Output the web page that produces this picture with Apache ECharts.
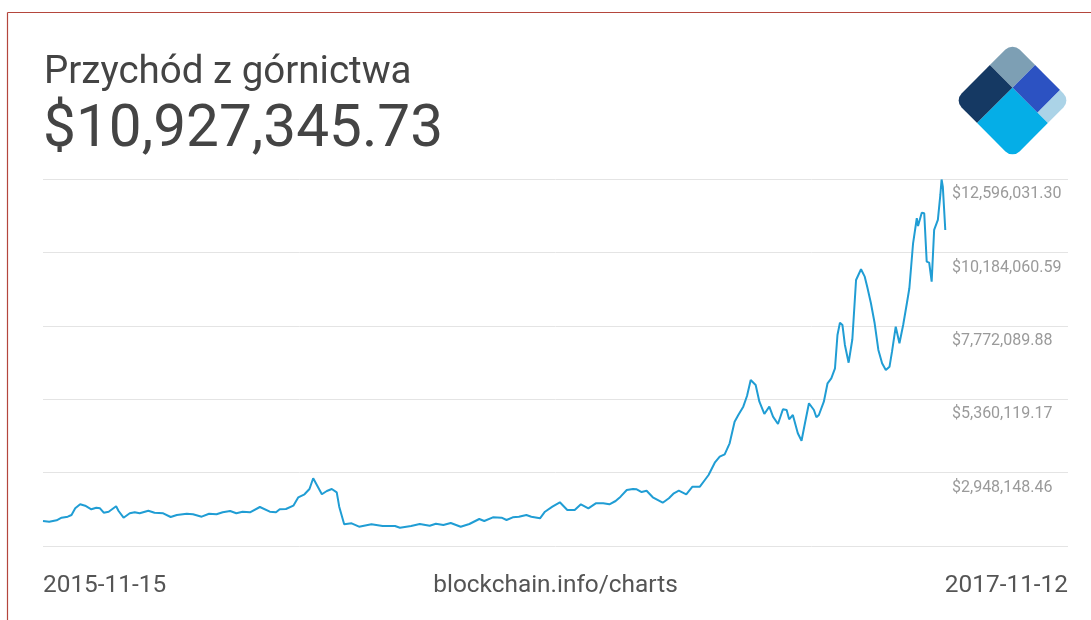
<!DOCTYPE html>
<html>
<head>
<meta charset="utf-8">
<script src="https://cdn.jsdelivr.net/npm/echarts@6/dist/echarts.min.js"></script>
<style>
html,body{margin:0;padding:0;background:#fff;}
#chart{width:1091px;height:620px;}
</style>
</head>
<body>
<div id="chart"></div>
<script>
const chartTitle = 'Przychód z górnictwa';
const footerStart = '2015-11-15';
const footerSource = 'blockchain.info/charts';
const footerEnd = '2017-11-12';

// day offsets from 2015-11-15
const days = [
  0,5,11,15,20,23,26,30,34,39,
  43,46,49,53,59,61,65,70,74,78,
  85,90,97,103,108,116,121,128,134,140,
  145,151,156,161,167,175,183,188,191,196,
  202,206,211,215,218,225,229,233,237,239,
  243,249,255,265,274,284,288,297,304,312,
  317,323,329,337,344,352,356,363,370,374,
  379,384,390,394,401,405,411,417,423,429,
  434,440,446,452,457,462,466,471,476,479,
  483,487,492,500,505,509,513,519,524,530,
  534,537,542,546,550,554,558,561,565,568,
  571,575,578,582,586,589,593,597,600,602,
  605,609,612,615,618,622,624,626,630,633,
  636,639,641,643,645,647,650,653,656,660,
  663,665,668,671,674,677,680,683,685,688,
  691,694,697,699,702,705,706,709,711,713,
  715,717,719,722,724,725,726,728
];

// mining revenue, USD
const revenue = [
  1358000,1335000,1381000,1467000,1500000,1556000,1776000,1908000,1862000,1743000,
  1796000,1776000,1631000,1664000,1842000,1687000,1467000,1612000,1645000,1612000,
  1697000,1631000,1612000,1490000,1556000,1598000,1579000,1500000,1598000,1579000,
  1645000,1687000,1612000,1664000,1645000,1819000,1664000,1645000,1743000,1753000,
  1862000,2138000,2237000,2411000,2763000,2237000,2345000,2411000,2302000,1829000,
  1250000,1283000,1171000,1250000,1194000,1194000,1138000,1194000,1260000,1204000,
  1270000,1227000,1293000,1171000,1260000,1424000,1358000,1480000,1467000,1391000,
  1480000,1500000,1556000,1500000,1447000,1664000,1829000,1973000,1720000,1720000,
  1908000,1776000,1940000,1940000,1908000,2016000,2158000,2378000,2411000,2401000,
  2312000,2355000,2138000,1960000,2105000,2269000,2355000,2237000,2487000,2487000,
  2707000,2871000,3276000,3473000,3552000,3914000,4624000,4845000,5118000,5470000,
  5996000,5832000,5282000,4878000,5118000,4789000,4549000,5032000,5009000,4703000,
  4845000,4243000,3999000,4624000,5230000,5009000,4769000,4845000,5282000,5887000,
  6052000,6381000,7476000,7881000,7805000,7147000,6565000,7335000,9285000,9637000,
  9394000,9065000,8519000,7861000,6983000,6545000,6325000,6434000,6927000,7749000,
  7203000,7805000,8519000,9012000,10492000,11315000,11061000,11499000,11479000,9887000,
  9854000,9229000,10930000,11259000,12081000,12590000,12354000,10927345.73
];

// y tick values shown on the right
const yTicks = [536177.75, 2948148.46, 5360119.17, 7772089.88, 10184060.59, 12596031.30];

function money(v){
  return '$' + v.toLocaleString('en-US',{minimumFractionDigits:2, maximumFractionDigits:2});
}

const FONT = 'Roboto, "Noto Sans", sans-serif';
const S = 82, r = 10, a = S*0.39, b = S*0.82;

const chart = echarts.init(document.getElementById('chart'));
chart.setOption({
  animation:false,
  backgroundColor:'#ffffff',
  grid:{left:43, right:23, top:179.3, bottom:74},
  xAxis:{
    type:'value', min:0, max:827,
    axisLine:{show:false}, axisTick:{show:false}, axisLabel:{show:false}, splitLine:{show:false}
  },
  yAxis:{
    type:'value', position:'right',
    min:yTicks[0], max:yTicks[yTicks.length-1], interval:yTicks[1]-yTicks[0],
    axisLine:{show:false}, axisTick:{show:false},
    splitLine:{show:true, lineStyle:{color:'#e4e4e4', width:1}},
    axisLabel:{
      inside:true, align:'left', margin:116, verticalAlign:'top',
      padding:[7,0,0,0], showMinLabel:false,
      color:'#9a9a9a', fontSize:16, fontFamily:FONT,
      formatter:function(v){ return money(v); }
    }
  },
  series:[{
    type:'line',
    data: days.map((d,i)=>[d, revenue[i]]),
    showSymbol:false, symbol:'none',
    lineStyle:{color:'#209dd4', width:2},
    silent:true
  }],
  graphic:[
    {type:'line', shape:{x1:7.5, y1:12.5, x2:1091, y2:12.5}, style:{stroke:'#b4463d', lineWidth:1.2}},
    {type:'line', shape:{x1:7.5, y1:12.5, x2:7.5, y2:620}, style:{stroke:'#b4463d', lineWidth:1.2}},
    {type:'text', x:44, y:73, style:{text:chartTitle, font:'38.5px '+FONT, fill:'#444444', align:'left', verticalAlign:'middle'}},
    {type:'text', x:43, y:131, scaleX:0.975, style:{text:money(revenue[revenue.length-1]), font:'60px '+FONT, fill:'#444444', align:'left', verticalAlign:'middle'}},
    {type:'text', x:43, y:586, style:{text:footerStart, font:'24.4px '+FONT, fill:'#555555', align:'left', verticalAlign:'middle'}},
    {type:'text', x:555.5, y:586, style:{text:footerSource, font:'24.4px '+FONT, fill:'#555555', align:'center', verticalAlign:'middle'}},
    {type:'text', x:1068, y:586, style:{text:footerEnd, font:'24.4px '+FONT, fill:'#555555', align:'right', verticalAlign:'middle'}},
    {type:'group', x:1012.5, y:42.5, rotation:-Math.PI/4, children:[
      {type:'rect', shape:{x:0, y:0, width:a, height:a, r:[r,0,0,0]}, style:{fill:'#7d9fb4'}},
      {type:'rect', shape:{x:0, y:a, width:a, height:S-a, r:[0,0,0,r]}, style:{fill:'#153963'}},
      {type:'rect', shape:{x:a, y:0, width:b-a, height:a, r:0}, style:{fill:'#2c52c2'}},
      {type:'rect', shape:{x:b, y:0, width:S-b, height:a, r:[0,r,0,0]}, style:{fill:'#abd3e7'}},
      {type:'rect', shape:{x:a, y:a, width:S-a, height:S-a, r:[0,0,r,0]}, style:{fill:'#05aee7'}}
    ]}
  ]
});
</script>
</body>
</html>
